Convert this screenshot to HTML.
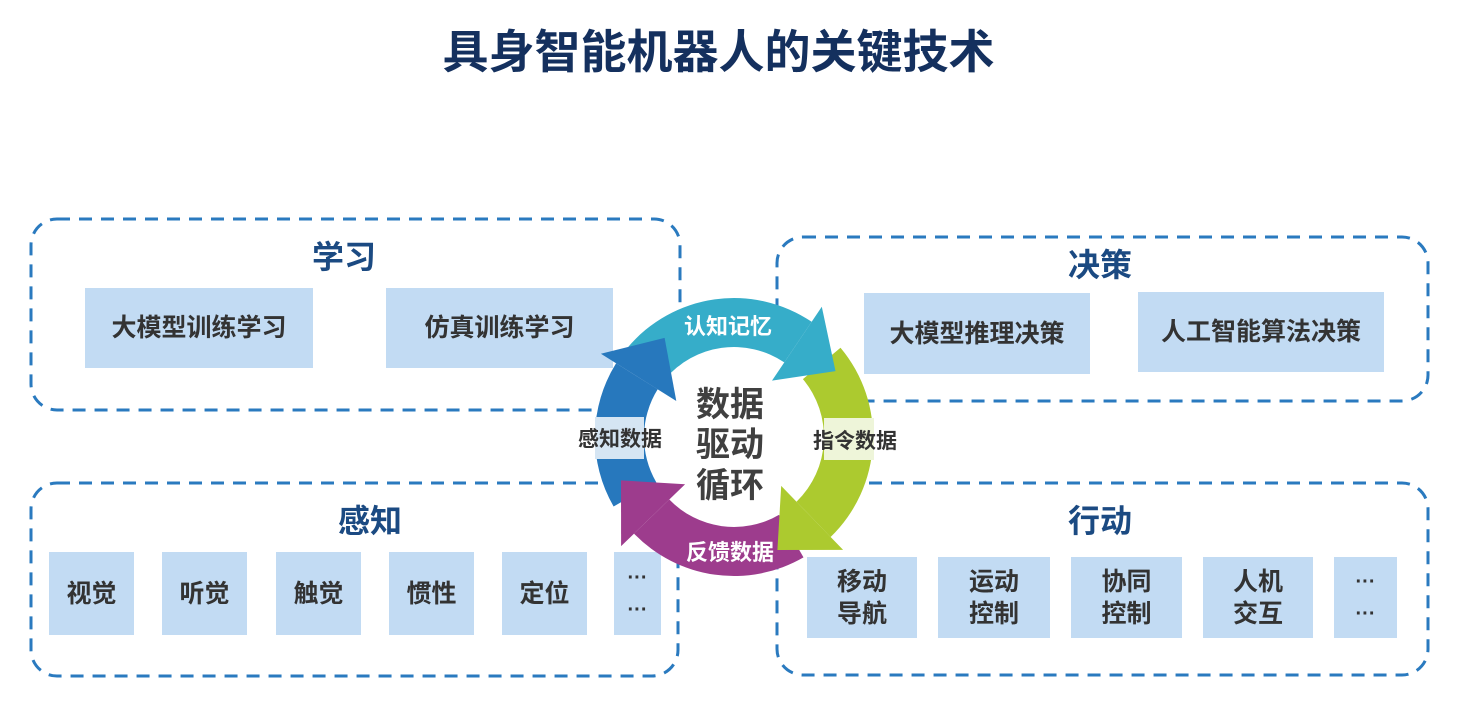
<!DOCTYPE html>
<html><head><meta charset="utf-8">
<style>
body{margin:0;width:1461px;height:705px;background:#fff;position:relative;overflow:hidden;font-family:"Liberation Sans","Noto Sans CJK SC",sans-serif;}
.t{position:absolute;font-weight:bold;white-space:nowrap;}
.box{position:absolute;background:#c2dbf3;color:#333;font-weight:bold;font-size:25px;display:flex;align-items:center;justify-content:center;text-align:center;line-height:32px;}
.h{position:absolute;color:#1b4a82;font-weight:bold;font-size:32px;transform:translateX(-50%);}
</style></head><body>
<div class="t" style="left:0;width:1437px;text-align:center;top:16px;font-size:46px;color:#14305e;">具身智能机器人的关键技术</div>
<svg width="1461" height="705" style="position:absolute;left:0;top:0">
<g fill="none" stroke="#2a7abf" stroke-width="3" stroke-dasharray="13 9">
<rect x="31" y="219" width="649" height="191" rx="26"/>
<rect x="31" y="483" width="647" height="193" rx="26"/>
<rect x="777" y="237" width="651" height="164" rx="26"/>
<rect x="777" y="483" width="651" height="192" rx="26"/>
</g>
</svg>
<div class="h" style="left:344px;top:232px">学习</div>
<div class="h" style="left:370px;top:496px">感知</div>
<div class="h" style="left:1100px;top:240px">决策</div>
<div class="h" style="left:1100px;top:496px">行动</div>
<div class="box" style="left:85px;top:288px;width:228px;height:80px">大模型训练学习</div>
<div class="box" style="left:386px;top:288px;width:227px;height:80px">仿真训练学习</div>
<div class="box" style="left:864px;top:293px;width:226px;height:81px">大模型推理决策</div>
<div class="box" style="left:1138px;top:292px;width:246px;height:80px">人工智能算法决策</div>
<div class="box" style="left:49px;top:552px;width:85px;height:83px">视觉</div>
<div class="box" style="left:162px;top:552px;width:85px;height:83px">听觉</div>
<div class="box" style="left:276px;top:552px;width:85px;height:83px">触觉</div>
<div class="box" style="left:389px;top:552px;width:85px;height:83px">惯性</div>
<div class="box" style="left:502px;top:552px;width:85px;height:83px">定位</div>
<div class="box" style="left:614px;top:552px;width:47px;height:83px;font-size:20px">···<br>···</div>
<div class="box" style="left:807px;top:557px;width:110px;height:81px">移动<br>导航</div>
<div class="box" style="left:938px;top:557px;width:112px;height:81px">运动<br>控制</div>
<div class="box" style="left:1071px;top:557px;width:111px;height:81px">协同<br>控制</div>
<div class="box" style="left:1203px;top:557px;width:110px;height:81px">人机<br>交互</div>
<div class="box" style="left:1334px;top:557px;width:63px;height:81px;font-size:20px">···<br>···</div>
<svg id="ring" width="1461" height="705" style="position:absolute;left:0;top:0"></svg>
<script>
var cx=734,cy=437,ri=90,ro=139,rm=115;
function p(r,a){a=a*Math.PI/180;return (cx+r*Math.cos(a)).toFixed(1)+","+(cy+r*Math.sin(a)).toFixed(1);}
function body(a0,a1,c){var la=(a1-a0)>180?1:0;return '<path fill="'+c+'" d="M'+p(ro,a0)+' A'+ro+','+ro+' 0 '+la+' 1 '+p(ro,a1)+' L'+p(ri,a1)+' A'+ri+','+ri+' 0 '+la+' 0 '+p(ri,a0)+' Z"/>';}
function head(a1,t,c){return '<path fill="'+c+'" d="M'+p(ri-22,a1)+' L'+p(ro+18,a1)+' L'+p(rm+6,t)+' Z"/>';}
var A=[[-140,-56,-33,'#36adc9'],[-40,46,69,'#acca2f'],[60,136,159,'#9d3c8d'],[150,212,235,'#2778bd']];
var s='<circle cx="'+cx+'" cy="'+cy+'" r="'+ri+'" fill="#fff"/>';
A.forEach(function(a){s+=body(a[0],a[1],a[3]);});
A.forEach(function(a){s+=head(a[1],a[2],a[3]);});
s+='<rect x="595" y="417" width="49" height="42" fill="#d5e5f3"/>';
s+='<rect x="824" y="418" width="50" height="42" fill="#eef5d9"/>';
var T=function(x,y,txt,sz,c){return '<text x="'+x+'" y="'+y+'" font-size="'+sz+'" fill="'+c+'" font-weight="bold" text-anchor="middle" font-family="Liberation Sans, Noto Sans CJK SC, sans-serif">'+txt+'</text>';};
s+=T(620,446,'感知数据',21,'#333')+T(855,448,'指令数据',21,'#333')+T(728,334,'认知记忆',22,'#fff')+T(730,560,'反馈数据',22,'#fff');
s+=T(730,416,'数据',34,'#404040')+T(730,456,'驱动',34,'#404040')+T(730,497,'循环',34,'#404040');
document.getElementById('ring').innerHTML=s;
</script>
</body></html>
